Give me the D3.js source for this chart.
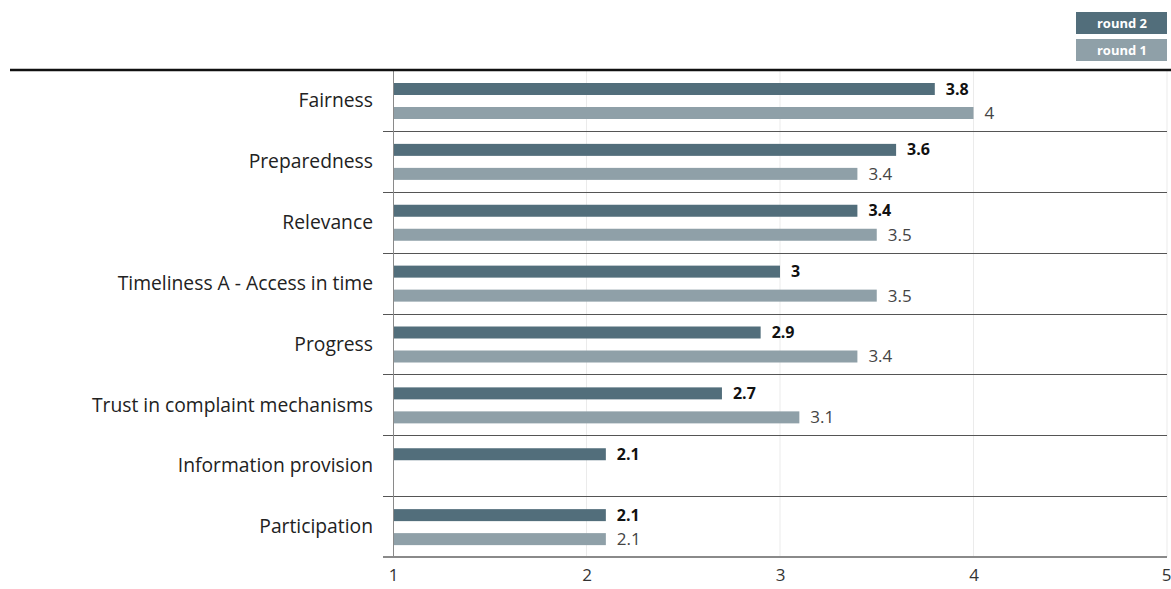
<!DOCTYPE html>
<html>
<head>
<meta charset="utf-8">
<script src="https://cdn.jsdelivr.net/npm/d3@7"></script>
<style>
  html, body { margin: 0; padding: 0; background: #fff; }
  svg { display: block; font-family: "Open Sans", "Noto Sans", sans-serif; }
</style>
</head>
<body>
<svg id="chart" width="1171" height="589"></svg>
<script>
// Mean scores per dimension, two survey rounds
const categories = [
  "Fairness",
  "Preparedness",
  "Relevance",
  "Timeliness A - Access in time",
  "Progress",
  "Trust in complaint mechanisms",
  "Information provision",
  "Participation"
];
const round2 = [3.8, 3.6, 3.4, 3, 2.9, 2.7, 2.1, 2.1];
const round1 = [4, 3.4, 3.5, 3.5, 3.4, 3.1, null, 2.1];
const xTicks = [1, 2, 3, 4, 5];
const seriesNames = ["round 2", "round 1"];

const colors = { "round 2": "#526e7b", "round 1": "#8fa0a8" };

const svg = d3.select("#chart");

const x = d3.scaleLinear().domain([1, 5]).range([393, 1167]);
const y = d3.scaleBand().domain(categories).range([70, 557]).padding(0);
const bw = y.bandwidth();

// vertical gridlines
svg.append("g")
  .selectAll("line")
  .data(xTicks.slice(1))
  .join("line")
  .attr("x1", d => x(d)).attr("x2", d => x(d))
  .attr("y1", 70).attr("y2", 557)
  .attr("stroke", "#ebebeb").attr("stroke-width", 1);

// bars
const rows = categories.map((c, i) => ({ cat: c, r2: round2[i], r1: round1[i] }));

const g = svg.append("g");
const rowG = g.selectAll("g.row").data(rows).join("g")
  .attr("class", "row")
  .attr("transform", d => `translate(0,${y(d.cat)})`);

const barH = 12;
const off2 = 13, off1 = 37;

rowG.append("rect")
  .attr("x", x(1))
  .attr("y", off2)
  .attr("width", d => x(d.r2) - x(1))
  .attr("height", barH)
  .attr("fill", colors["round 2"]);

rowG.filter(d => d.r1 != null).append("rect")
  .attr("x", x(1))
  .attr("y", off1)
  .attr("width", d => x(d.r1) - x(1))
  .attr("height", barH)
  .attr("fill", colors["round 1"]);

// value labels
rowG.append("text")
  .attr("x", d => x(d.r2) + 11)
  .attr("y", off2 + barH / 2)
  .attr("dy", "0.35em")
  .attr("font-size", 16)
  .attr("font-weight", "bold")
  .attr("fill", "#111")
  .text(d => d.r2);

rowG.filter(d => d.r1 != null).append("text")
  .attr("x", d => x(d.r1) + 11)
  .attr("y", off1 + barH / 2)
  .attr("dy", "0.35em")
  .attr("font-size", 17)
  .attr("fill", "#444")
  .text(d => d.r1);

// category labels
rowG.append("text")
  .attr("x", 373)
  .attr("y", bw / 2)
  .attr("dy", "0.35em")
  .attr("text-anchor", "end")
  .attr("font-size", 19.3)
  .attr("fill", "#222")
  .text(d => d.cat);

// row separators
svg.append("g")
  .selectAll("line")
  .data(categories.slice(0, -1))
  .join("line")
  .attr("x1", 383).attr("x2", 1167)
  .attr("y1", d => Math.round(y(d) + bw) + 0.5)
  .attr("y2", d => Math.round(y(d) + bw) + 0.5)
  .attr("stroke", "#555").attr("stroke-width", 1);

// bottom baseline
svg.append("line")
  .attr("x1", 383).attr("x2", 1167)
  .attr("y1", 557).attr("y2", 557)
  .attr("stroke", "#8a8a8a").attr("stroke-width", 2);

// left axis line
svg.append("line")
  .attr("x1", x(1) + 0.5).attr("x2", x(1) + 0.5)
  .attr("y1", 70).attr("y2", 557)
  .attr("stroke", "#8a8a8a").attr("stroke-width", 1);

// top rule
svg.append("line")
  .attr("x1", 10).attr("x2", 1171)
  .attr("y1", 70).attr("y2", 70)
  .attr("stroke", "#111").attr("stroke-width", 2.5);

// x axis tick labels
const xAxis = d3.axisBottom(x).tickValues(xTicks).tickSize(0).tickPadding(0).tickFormat(d3.format("d"));
const ax = svg.append("g").attr("transform", "translate(0,569)").call(xAxis);
ax.select(".domain").remove();
ax.selectAll("text")
  .attr("font-family", "\"Open Sans\", \"Noto Sans\", sans-serif")
  .attr("font-size", 17)
  .attr("fill", "#333")
  .attr("dy", "0.71em");
// keep the last tick label inside the right edge
ax.selectAll(".tick").filter(d => d === xTicks[xTicks.length - 1])
  .select("text").attr("text-anchor", "end").attr("dx", 4);

// legend
const legend = svg.append("g");
const legendY = [12, 39];
seriesNames.forEach((s, i) => {
  legend.append("rect")
    .attr("x", 1076).attr("y", legendY[i])
    .attr("width", 91).attr("height", 22)
    .attr("fill", colors[s]);
  legend.append("text")
    .attr("x", 1122).attr("y", legendY[i] + 11)
    .attr("dy", "0.35em")
    .attr("text-anchor", "middle")
    .attr("font-size", 13)
    .attr("font-weight", "bold")
    .attr("fill", "#fff")
    .text(s);
});
</script>
</body>
</html>
